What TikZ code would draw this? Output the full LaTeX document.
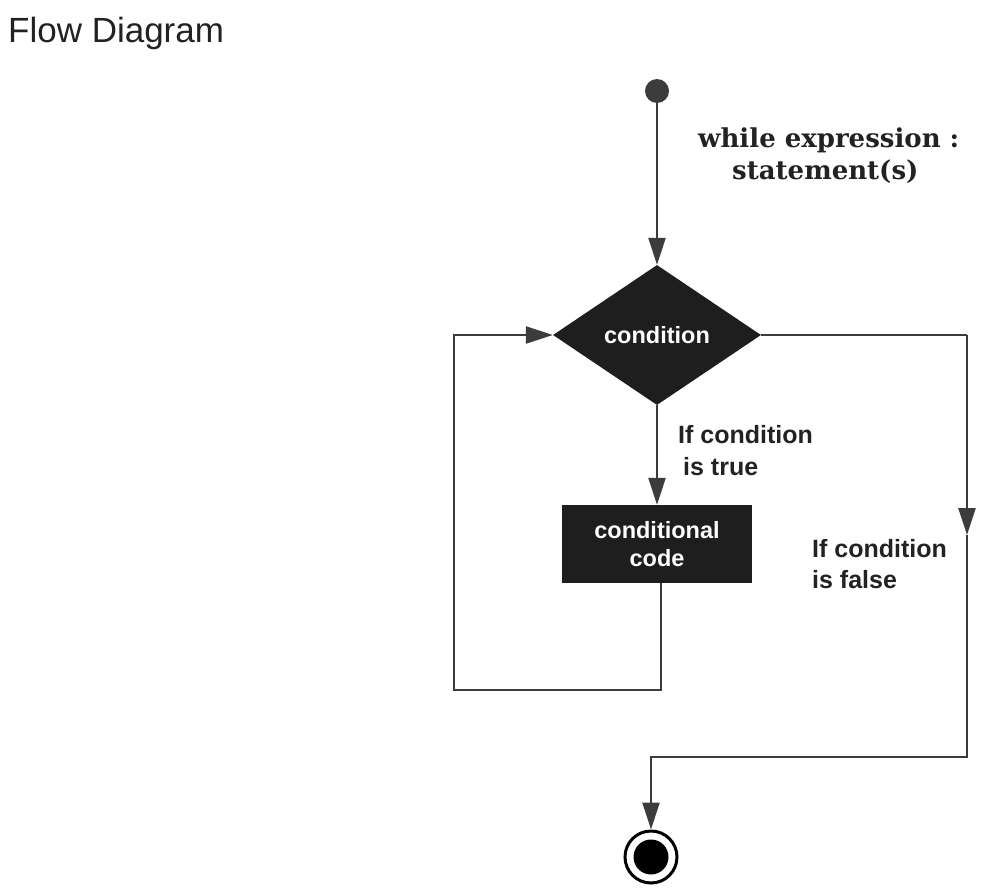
\documentclass[tikz,border=0pt]{standalone}
\usepackage{fontspec}
\setmainfont{Liberation Sans}
\newfontfamily\codefont{DejaVu Serif}
\usetikzlibrary{shapes.geometric,arrows.meta}

\definecolor{linegray}{HTML}{3C3C3C}
\definecolor{boxfill}{HTML}{1E1E1E}
\definecolor{inkgray}{HTML}{222222}

\tikzset{
  flow/.style={draw=linegray, line width=2.6pt},
  tip/.style={-{Triangle[length=27pt,width=17pt]}},
  decision/.style={diamond, fill=boxfill, minimum width=208pt, minimum height=140pt,
    inner sep=0pt, text=white, font=\bfseries\fontsize{23.5}{28}\selectfont},
  process/.style={rectangle, fill=boxfill, minimum width=190pt, minimum height=78pt,
    inner sep=0pt, text=white, align=center, font=\bfseries\fontsize{23.5}{28}\selectfont},
  lbl/.style={anchor=base west, inner sep=0pt, text=inkgray, font=\bfseries\fontsize{25}{30}\selectfont},
  codetxt/.style={anchor=base west, inner sep=0pt, text=inkgray, font=\codefont\bfseries\fontsize{26}{31}\selectfont}
}

\begin{document}
\begin{tikzpicture}[x=1pt,y=-1pt]
  \useasboundingbox (0,0) rectangle (994,894);

  % heading
  \node[anchor=base west, inner sep=0pt, text=inkgray, font=\fontsize{35}{40}\selectfont]
    (title) at (8,42) {Flow Diagram};

  % syntax reminder
  \node[codetxt] (code1) at (698,147) {while expression :};
  \node[codetxt] (code2) at (732,179) {statement(s)};

  % nodes
  \node[circle, fill=linegray, minimum size=24pt, inner sep=0pt] (start) at (657,91) {};
  \node[decision] (cond) at (657,335) {condition};
  \node[process] (body) at (657,544) {conditional\\code};
  \node[circle, draw=black, line width=3pt, minimum size=52pt, inner sep=0pt] (stop) at (651,857) {};
  \node[circle, fill=black, minimum size=35pt, inner sep=0pt] (stopcore) at (stop.center) {};

  % labels on the branches
  \node[lbl] (true1) at (678,443) {If condition};
  \node[lbl] (true2) at (683,475) {is true};
  \node[lbl] (false1) at (812,557) {If condition};
  \node[lbl] (false2) at (812,588) {is false};

  % routing points
  \coordinate (loopbl) at (454,690);
  \coordinate (looptl) at (454,335);
  \coordinate (rtop) at (967,335);
  \coordinate (rmid) at (967,535);
  \coordinate (rbot) at (967,757);

  % connectors
  \draw[flow, tip] (start) -- (cond.north);
  \draw[flow, tip] (cond.south) -- (body.north);
  \draw[flow, tip] ([xshift=4pt]body.south) |- (loopbl) -- (looptl) -- (cond.west);
  \draw[flow] (cond.east) -- (rtop);
  \draw[flow, tip] (rtop) -- (rmid);
  \draw[flow, tip] (rmid) -- (rbot) -| (stop.north);
\end{tikzpicture}
\end{document}
